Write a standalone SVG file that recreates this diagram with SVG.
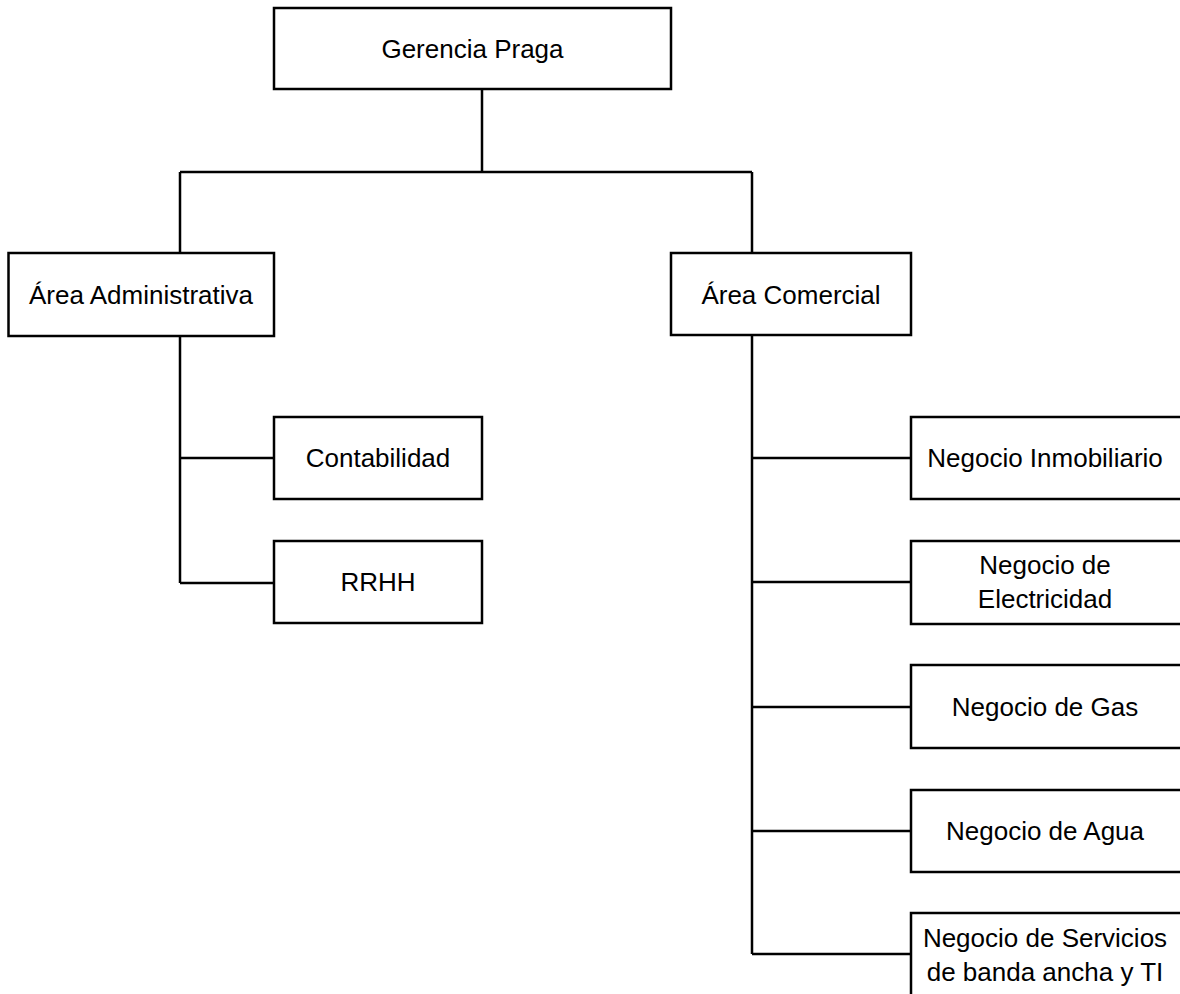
<svg xmlns="http://www.w3.org/2000/svg" width="1180" height="994" viewBox="0 0 1180 994">
<style>
.box{fill:#fff;stroke:#000;stroke-width:2.5}
.ln{fill:none;stroke:#000;stroke-width:2.5}
text{font-family:"Liberation Sans",Arial,sans-serif;font-size:26px;fill:#000;text-anchor:middle}
</style>
<rect width="1180" height="994" fill="#fff"/>
<g id="connectors">
<path class="ln" d="M482,89 V172 M180,172 H752 M180,172 V253 M752,172 V253"/>
<path class="ln" d="M180,336 V583 M180,458 H274 M180,583 H274"/>
<path class="ln" d="M752,335 V954 M752,458 H911 M752,582 H911 M752,707 H911 M752,831 H911 M752,954 H911"/>
</g>
<g id="gerencia"><rect class="box" x="274" y="8" width="397" height="81"/><text x="472.5" y="58">Gerencia Praga</text></g>
<g id="area-admin"><rect class="box" x="8.5" y="253" width="265.5" height="83"/><text x="141" y="304">Área Administrativa</text></g>
<g id="area-comercial"><rect class="box" x="671" y="253" width="240" height="82"/><text x="791" y="304">Área Comercial</text></g>
<g id="contabilidad"><rect class="box" x="274" y="417" width="208" height="82"/><text x="378" y="467">Contabilidad</text></g>
<g id="rrhh"><rect class="box" x="274" y="541" width="208" height="82"/><text x="378" y="591">RRHH</text></g>
<g id="inmobiliario"><rect class="box" x="911" y="417" width="280" height="82"/><text x="1045" y="467">Negocio Inmobiliario</text></g>
<g id="electricidad"><rect class="box" x="911" y="541" width="280" height="83"/><text x="1045" y="574">Negocio de</text><text x="1045" y="608">Electricidad</text></g>
<g id="gas"><rect class="box" x="911" y="665" width="280" height="83"/><text x="1045" y="716">Negocio de Gas</text></g>
<g id="agua"><rect class="box" x="911" y="790" width="280" height="82"/><text x="1045" y="840">Negocio de Agua</text></g>
<g id="servicios"><rect class="box" x="911" y="913" width="280" height="100"/><text x="1045" y="947">Negocio de Servicios</text><text x="1045" y="981">de banda ancha y TI</text></g>
</svg>
